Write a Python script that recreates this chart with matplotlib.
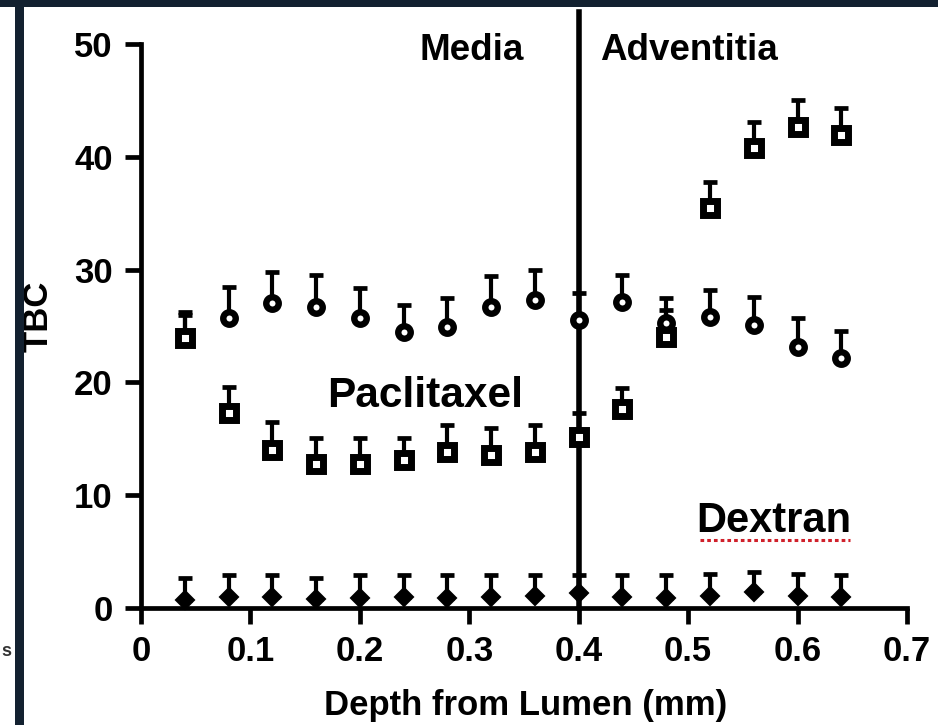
import numpy as np
import matplotlib
matplotlib.use("Agg")
import matplotlib.pyplot as plt
from matplotlib.patches import Rectangle

plt.rcParams['font.family'] = ['Liberation Sans', 'DejaVu Sans']
plt.rcParams['font.weight'] = 'bold'

# ---- data ----
depth = [0.04, 0.08, 0.12, 0.16, 0.20, 0.24, 0.28, 0.32,
         0.36, 0.40, 0.44, 0.48, 0.52, 0.56, 0.60, 0.64]

square_vals = [23.9, 17.3, 14.0, 12.8, 12.8, 13.1, 13.8, 13.6,
               13.8, 15.2, 17.6, 24.0, 35.5, 40.8, 42.6, 41.9]
square_err = [2.1, 2.3, 2.5, 2.3, 2.3, 2.0, 2.4, 2.4,
              2.4, 2.1, 1.9, 2.4, 2.3, 2.3, 2.4, 2.4]

circle_vals = [24.0, 25.7, 27.0, 26.7, 25.7, 24.5, 24.9, 26.7,
               27.3, 25.5, 27.1, 25.3, 25.8, 25.1, 23.1, 22.2]
circle_err = [2.2, 2.8, 2.8, 2.8, 2.7, 2.4, 2.6, 2.7,
              2.7, 2.4, 2.4, 2.2, 2.4, 2.5, 2.6, 2.4]

dextran_vals = [0.7, 1.0, 1.0, 0.8, 0.9, 1.0, 0.9, 1.0,
                1.1, 1.3, 1.0, 0.9, 1.1, 1.4, 1.1, 1.0]
dextran_err = [2.0, 1.9, 1.9, 1.9, 2.0, 1.9, 2.0, 1.9,
               1.8, 1.6, 1.9, 2.0, 1.9, 1.8, 1.9, 1.9]

xticks = [0, 0.1, 0.2, 0.3, 0.4, 0.5, 0.6, 0.7]
xticklabels = ['0', '0.1', '0.2', '0.3', '0.4', '0.5', '0.6', '0.7']
yticks = [0, 10, 20, 30, 40, 50]
yticklabels = ['0', '10', '20', '30', '40', '50']
boundary = 0.4

W, H = 938, 725
fig = plt.figure(figsize=(W / 100, H / 100), dpi=100)
fig.patch.set_facecolor('white')

# axes placement (pixel-derived)
x0, x1 = 141, 907
yb, yt = 608, 44
ax = fig.add_axes([x0 / W, 1 - yb / H, (x1 - x0) / W, (yb - yt) / H])
ax.set_xlim(0, 0.7)
ax.set_ylim(0, 50)
ax.set_facecolor('none')

for s in ['top', 'right']:
    ax.spines[s].set_visible(False)
for s in ['left', 'bottom']:
    ax.spines[s].set_linewidth(3.4)
    ax.spines[s].set_color('black')

ax.set_xticks(xticks)
ax.set_xticklabels(xticklabels)
ax.set_yticks(yticks)
ax.set_yticklabels(yticklabels)
ax.tick_params(axis='both', direction='out', length=11.5, width=3.4,
               labelsize=25, color='black')
ax.tick_params(axis='x', pad=8)
ax.tick_params(axis='y', pad=9)
for lab in ax.get_xticklabels() + ax.get_yticklabels():
    lab.set_fontweight('bold')

# boundary line between media and adventitia
ax.axvline(boundary, ymin=0, ymax=52.8 / 50, color='black', lw=4.0,
           clip_on=False, zorder=2)

zeros = np.zeros(len(depth))
ebkw = dict(fmt='none', ecolor='black', elinewidth=3.0, capsize=5,
            capthick=3.4, zorder=3)

ax.errorbar(depth, square_vals, yerr=[zeros, square_err], **ebkw)
ax.errorbar(depth, circle_vals, yerr=[zeros, circle_err], **ebkw)
ax.errorbar(depth, dextran_vals, yerr=[zeros, dextran_err], **ebkw)

ax.plot(depth, circle_vals, linestyle='none', marker='o', markersize=9,
        markerfacecolor='white', markeredgecolor='black',
        markeredgewidth=4.6, zorder=4)
ax.plot(depth, square_vals, linestyle='none', marker='s', markersize=10.5,
        markerfacecolor='white', markeredgecolor='black',
        markeredgewidth=5, zorder=5)
ax.plot(depth, dextran_vals, linestyle='none', marker='D', markersize=9,
        markerfacecolor='black', markeredgecolor='black',
        markeredgewidth=1.5, zorder=5, clip_on=False)

# annotations
ax.text(0.3026, 48.6, 'Media', fontsize=26.5, fontweight='bold',
        ha='center', va='baseline')
ax.text(0.501, 48.6, 'Adventitia', fontsize=26.5, fontweight='bold',
        ha='center', va='baseline')
ax.text(0.2596, 17.8, 'Paclitaxel', fontsize=30.5, fontweight='bold',
        ha='center', va='baseline')
ax.text(0.578, 6.74, 'Dextran', fontsize=30, fontweight='bold',
        ha='center', va='baseline')
# spell-check squiggle under "Dextran"
fig.add_artist(plt.Line2D([700 / W, 850 / W], [1 - 540 / H, 1 - 540 / H],
                          color='#d0202a', lw=2.2,
                          linestyle=(0, (1.2, 1.0))))

# axis titles
fig.text(526 / W, 1 - 706 / H, 'Depth from Lumen (mm)', fontsize=25,
         fontweight='bold', ha='center', va='center')
fig.text(38 / W, 1 - 316 / H, 'TBC', fontsize=25, fontweight='bold',
         rotation=90, ha='center', va='center')

# dark frame remnants from the source screenshot
frame_col = '#132130'
fig.add_artist(Rectangle((0, 1 - 7 / H), 1, 7 / H, transform=fig.transFigure,
                         facecolor=frame_col, edgecolor='none', zorder=10))
fig.add_artist(Rectangle((15 / W, 0), 9 / W, 1, transform=fig.transFigure,
                         facecolor=frame_col, edgecolor='none', zorder=10))
fig.text(1 / W, 1 - 652 / H, 's', fontsize=13, fontweight='bold',
         ha='left', va='center', color='#333333')

fig.savefig('out.png', dpi=100, facecolor='white')
